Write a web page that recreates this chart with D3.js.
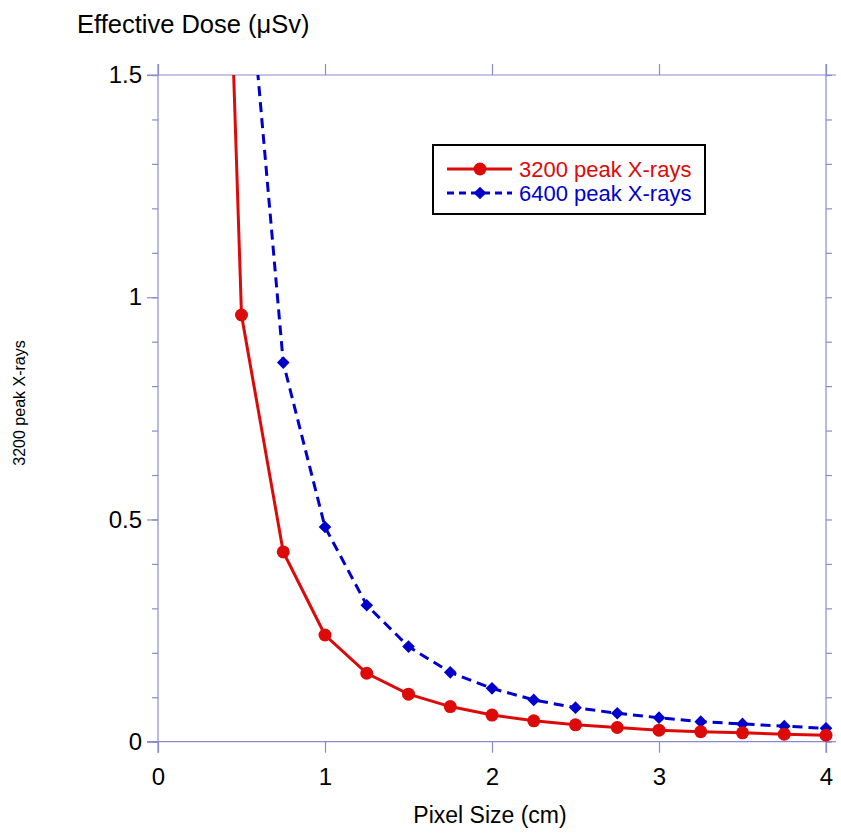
<!DOCTYPE html>
<html>
<head>
<meta charset="utf-8">
<script src="https://cdn.jsdelivr.net/npm/d3@7"></script>
<style>
  body { margin: 0; background: #fff; }
  text { font-family: Arial, "Liberation Sans", sans-serif; }
</style>
</head>
<body>
<div class="d3-container"></div>
<script>
// pixel size (cm)
const pixelSize = [0.25, 0.5, 0.75, 1, 1.25, 1.5, 1.75, 2, 2.25, 2.5, 2.75, 3, 3.25, 3.5, 3.75, 4];
// effective dose (uSv)
const dose3200 = [3.84, 0.96, 0.427, 0.240, 0.154, 0.107, 0.079, 0.060, 0.047, 0.038, 0.032, 0.026, 0.0225, 0.020, 0.017, 0.0145];
const dose6400 = [7.7, 1.92, 0.853, 0.483, 0.307, 0.214, 0.156, 0.120, 0.094, 0.0765, 0.064, 0.054, 0.045, 0.040, 0.035, 0.030];
const xTicks = [0, 1, 2, 3, 4];
const yTicks = [0, 0.5, 1, 1.5];
const seriesNames = ["3200 peak X-rays", "6400 peak X-rays"];

const W = 841, H = 835;
const margin = {top: 75, right: 16, bottom: 94, left: 158},
    width = 826 - margin.left,
    height = 741.7 - margin.top;

const axisColor = "#8a8ad0";
const red = "#dd0a0a", blue = "#0000cc";

const root = d3.select(".d3-container").append("svg").attr("width", W).attr("height", H);
const svg = root.append("g").attr("transform", `translate(${margin.left},${margin.top})`);

const x = d3.scaleLinear().domain([0, 4]).range([0, width]);
const y = d3.scaleLinear().domain([0, 1.5]).range([height, 0]);

root.append("defs").append("clipPath").attr("id", "clip")
    .append("rect").attr("x", 0).attr("y", 0).attr("width", width).attr("height", height);

function styleAxis(g) {
    g.select(".domain").remove();
    g.selectAll(".tick line").attr("stroke", axisColor).attr("stroke-width", 1.2);
    g.selectAll("text").attr("font-size", 24).attr("fill", "#000");
}

const minor = d3.range(0, 16).map(i => i / 10);

// bottom axis
svg.append("g").attr("transform", `translate(0,${height})`)
    .call(d3.axisBottom(x).tickValues(xTicks).tickSize(11).tickPadding(15).tickFormat(d3.format("d")))
    .call(styleAxis);
// top axis
svg.append("g")
    .call(d3.axisTop(x).tickValues(xTicks).tickSize(11).tickFormat(""))
    .call(styleAxis);
// left axis: minor ticks every 0.1, labeled majors
svg.append("g")
    .call(d3.axisLeft(y).tickValues(minor).tickSize(6).tickFormat(""))
    .call(styleAxis);
svg.append("g")
    .call(d3.axisLeft(y).tickValues(yTicks).tickSize(11).tickPadding(5).tickFormat(d => String(d)))
    .call(styleAxis);
// right axis
svg.append("g").attr("transform", `translate(${width},0)`)
    .call(d3.axisRight(y).tickValues(minor).tickSize(6).tickFormat(""))
    .call(styleAxis);

// frame
const frame = [
    [-11, 0, width + 10, 0],
    [-11, height, width + 10, height],
    [0, -11, 0, height + 11],
    [width, -11, width, height + 11]
];
svg.selectAll(".frame").data(frame).join("line")
    .attr("x1", d => d[0]).attr("y1", d => d[1]).attr("x2", d => d[2]).attr("y2", d => d[3])
    .attr("stroke", axisColor).attr("stroke-width", 1.2);

const line = d3.line().x(d => x(d[0])).y(d => y(d[1]));
const d1 = pixelSize.map((p, i) => [p, dose3200[i]]);
const d2 = pixelSize.map((p, i) => [p, dose6400[i]]);

const plot = svg.append("g").attr("clip-path", "url(#clip)");
plot.append("path").datum(d2).attr("d", line).attr("fill", "none")
    .attr("stroke", blue).attr("stroke-width", 3).attr("stroke-dasharray", "10,6");
plot.append("path").datum(d1).attr("d", line).attr("fill", "none")
    .attr("stroke", red).attr("stroke-width", 3);

const diamond = d3.symbol().type(d3.symbolSquare).size(80);
svg.selectAll(".pt2").data(d2.filter(d => d[1] <= 1.5)).join("path")
    .attr("transform", d => `translate(${x(d[0])},${y(d[1])}) rotate(45)`)
    .attr("d", diamond).attr("fill", blue);
svg.selectAll(".pt1").data(d1.filter(d => d[1] <= 1.5)).join("circle")
    .attr("cx", d => x(d[0])).attr("cy", d => y(d[1])).attr("r", 6.5).attr("fill", red);

// legend
const lg = root.append("g").attr("transform", "translate(433,145)");
lg.append("rect").attr("width", 272).attr("height", 69).attr("fill", "#fff")
    .attr("stroke", "#000").attr("stroke-width", 2);
lg.append("line").attr("x1", 14).attr("x2", 79).attr("y1", 24).attr("y2", 24).attr("stroke", red).attr("stroke-width", 3);
lg.append("circle").attr("cx", 47).attr("cy", 24).attr("r", 6.5).attr("fill", red);
lg.append("line").attr("x1", 14).attr("x2", 79).attr("y1", 48).attr("y2", 48).attr("stroke", blue).attr("stroke-width", 3).attr("stroke-dasharray", "7,5");
lg.append("path").attr("transform", "translate(47,48) rotate(45)").attr("d", diamond).attr("fill", blue);
lg.append("text").attr("x", 86).attr("y", 24).attr("dy", "0.35em").attr("font-size", 22).attr("fill", red).text(seriesNames[0]);
lg.append("text").attr("x", 86).attr("y", 48).attr("dy", "0.35em").attr("font-size", 22).attr("fill", blue).text(seriesNames[1]);

// titles
root.append("text").attr("x", 77).attr("y", 33).attr("font-size", 25.5).text("Effective Dose (\u03bcSv)");
root.append("text").attr("x", 490).attr("y", 823).attr("text-anchor", "middle").attr("font-size", 23).text("Pixel Size (cm)");
root.append("text").attr("transform", "translate(25,403) rotate(-90)").attr("text-anchor", "middle").attr("font-size", 16).text(seriesNames[0]);
</script>
</body>
</html>
